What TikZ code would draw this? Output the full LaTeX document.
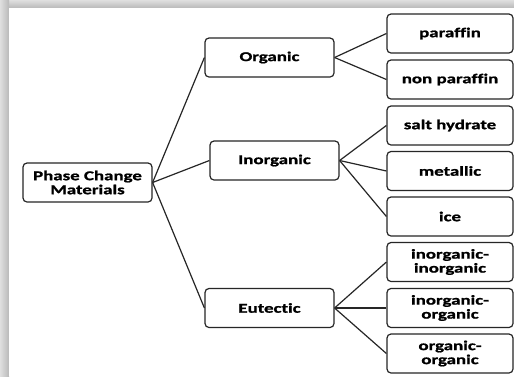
\documentclass[tikz,border=0pt]{standalone}
\usepackage{fontspec}
\newfontfamily\boxfont{Carlito Bold}[FakeStretch=1.4, FakeBold=1.2, Ligatures=NoCommon]
\begin{document}
\begin{tikzpicture}[x=1pt,y=-1pt,
  box/.style={draw=black!85, line width=1.2pt, rounded corners=4pt, fill=white,
    minimum width=129pt, minimum height=39pt, align=center, inner sep=0pt,
    font=\fontsize{13.5}{14}\boxfont},
  leaf/.style={box, minimum width=126pt},
  link/.style={draw=black!85, line width=1.2pt}]
\useasboundingbox (0,0) rectangle (514,376);
\shade[top color=gray!25, bottom color=gray!55] (0,0) rectangle (514,8);
\shade[left color=gray!25, right color=gray!55] (0,0) rectangle (9,376);
\fill[white] (9,8) rectangle (514,376);
\node[box] (pcm) at (87.5,182.5) {Phase Change\\Materials};
\node[box] (org) at (269.5,57.5) {Organic};
\node[box] (inorg) at (274.5,160.5) {Inorganic};
\node[box] (eut) at (269.5,308) {Eutectic};
\node[leaf] (par) at (450,33.5) {paraffin};
\node[leaf] (npar) at (450,79.5) {non paraffin};
\node[leaf] (salt) at (450,125.5) {salt hydrate};
\node[leaf] (met) at (450,171) {metallic};
\node[leaf] (ice) at (450,216.5) {ice};
\node[leaf] (ii) at (450,262) {inorganic-\\inorganic};
\node[leaf] (io) at (450,308) {inorganic-\\organic};
\node[leaf] (oo) at (450,353.5) {organic-\\organic};
\draw[link] (pcm.east) -- (org.west);
\draw[link] (pcm.east) -- (inorg.west);
\draw[link] (pcm.east) -- (eut.west);
\draw[link] (org.east) -- (par.west);
\draw[link] (org.east) -- (npar.west);
\draw[link] (inorg.east) -- (salt.west);
\draw[link] (inorg.east) -- (met.west);
\draw[link] (inorg.east) -- (ice.west);
\draw[link] (eut.east) -- (ii.west);
\draw[link] (eut.east) -- (io.west);
\draw[link] (eut.east) -- (oo.west);
\end{tikzpicture}
\end{document}
